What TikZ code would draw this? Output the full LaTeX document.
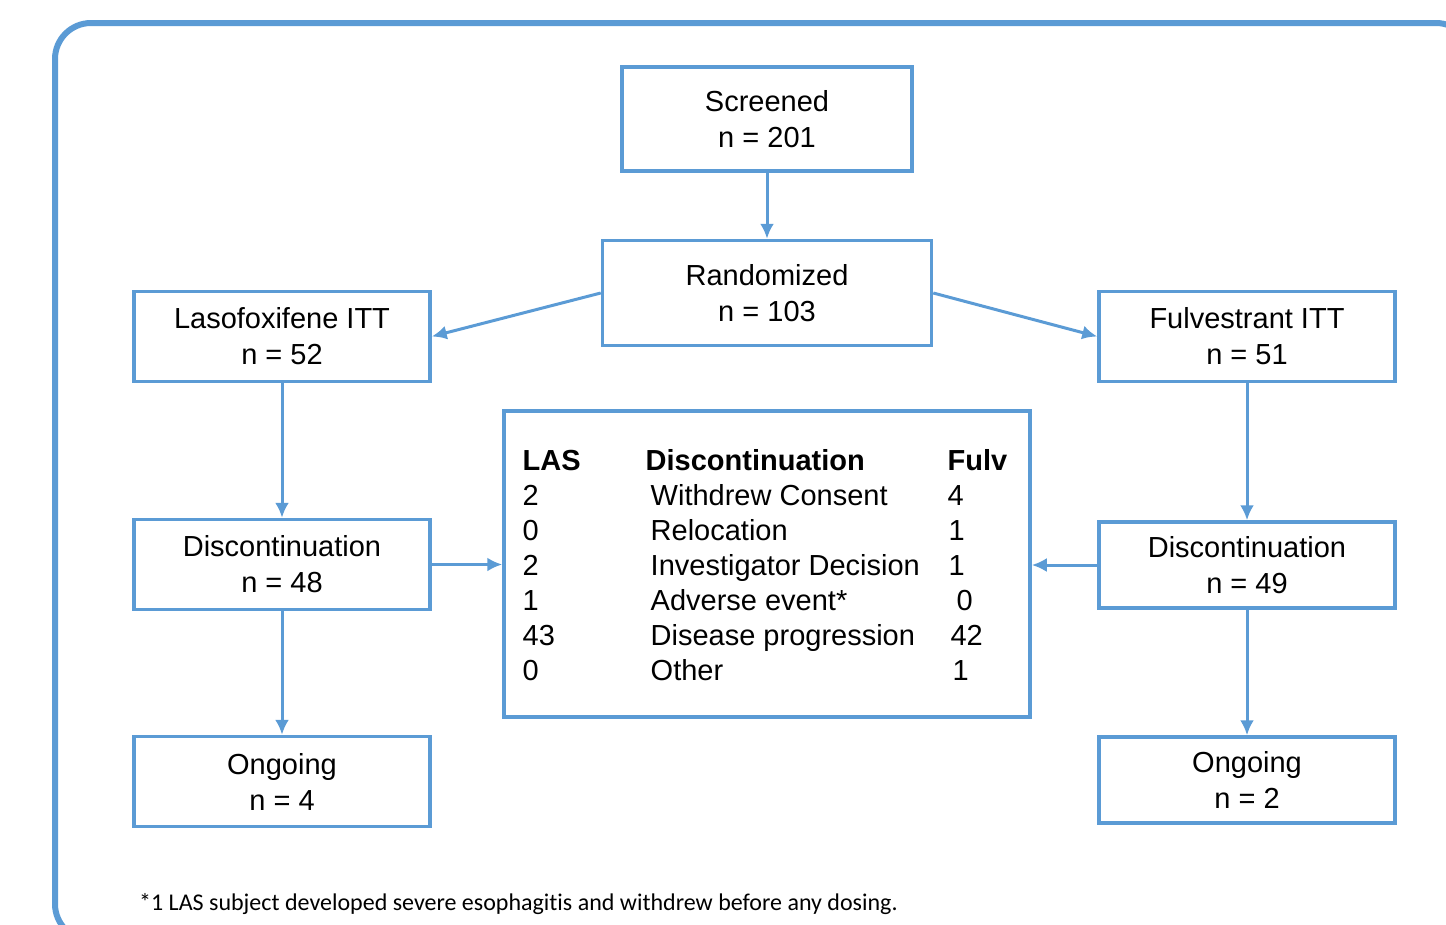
\documentclass[tikz,border=0pt]{standalone}
\usepackage{fontspec}
\setmainfont{Liberation Sans}
\newfontfamily\notefont[Ligatures=NoCommon]{Carlito}
\usetikzlibrary{arrows.meta}
\definecolor{boxblue}{RGB}{91,155,213}
\tikzset{
	box/.style={draw=boxblue,line width=3.5pt,align=center,inner sep=0pt,minimum width=296,minimum height=90,font=\fontsize{29}{36}\selectfont},
	link/.style={draw=boxblue,line width=3pt,->}
}

\begin{document}
\begin{tikzpicture}[x=1pt,y=-1pt,>={Latex[length=15pt,width=14pt]}]
	\useasboundingbox (0,0) rectangle (1446,924);
	\clip (0,0) rectangle (1446,924);
	\draw[boxblue,line width=6pt,rounded corners=36pt] (55,23) rectangle (1472,940);
	\node[box,minimum width=290,minimum height=104] (scr) at (767,119) {Screened\\n = 201};
	\node[box,minimum width=329,minimum height=105] (rand) at (767,293) {Randomized\\n = 103};
	\node[box] (laso) at (282,336.5) {Lasofoxifene ITT\\n = 52};
	\node[box] (fulv) at (1247,336.5) {Fulvestrant ITT\\n = 51};
	\node[box] (dl) at (282,564.5) {Discontinuation\\n = 48};
	\node[box,minimum height=86] (dr) at (1247,565) {Discontinuation\\n = 49};
	\node[box] (ongl) at (282,781.5) {Ongoing\\n = 4};
	\node[box,minimum height=86] (ongr) at (1247,780) {Ongoing\\n = 2};
	\node[box,minimum width=526,minimum height=306] (tab) at (767,564) {};
	\node[inner sep=0pt,font=\fontsize{29}{35}\selectfont] (tabtxt) at (765,568.5) {%
		\begin{tabular}{@{}p{123pt}@{}p{302pt}@{}l@{}}
			\textbf{LAS} & \textbf{Discontinuation} & \textbf{Fulv}\\
			2 & \hspace{5pt}Withdrew Consent & 4\\
			0 & \hspace{5pt}Relocation & \hspace{1pt}1\\
			2 & \hspace{5pt}Investigator Decision & \hspace{1pt}1\\
			1 & \hspace{5pt}Adverse event* & \hspace{9pt}0\\
			43 & \hspace{5pt}Disease progression & \hspace{3pt}42\\
			0 & \hspace{5pt}Other & \hspace{5pt}1
		\end{tabular}};
	\node[anchor=base west,inner sep=0pt,font=\notefont\fontsize{24}{28}\selectfont] (note) at (139,910) {*1 LAS subject developed severe esophagitis and withdrew before any dosing.};
	\foreach \a/\b in {scr/rand,laso/dl,dl/ongl,fulv/dr,dr/ongr} \draw[link] (\a) -- (\b);
	\draw[link] (rand.west) -- (laso.east);
	\draw[link] (rand.east) -- (fulv.west);
	\draw[link] (dl.east) -- (dl.east -| tab.west);
	\draw[link] (dr.west) -- (dr.west -| tab.east);
\end{tikzpicture}
\end{document}
